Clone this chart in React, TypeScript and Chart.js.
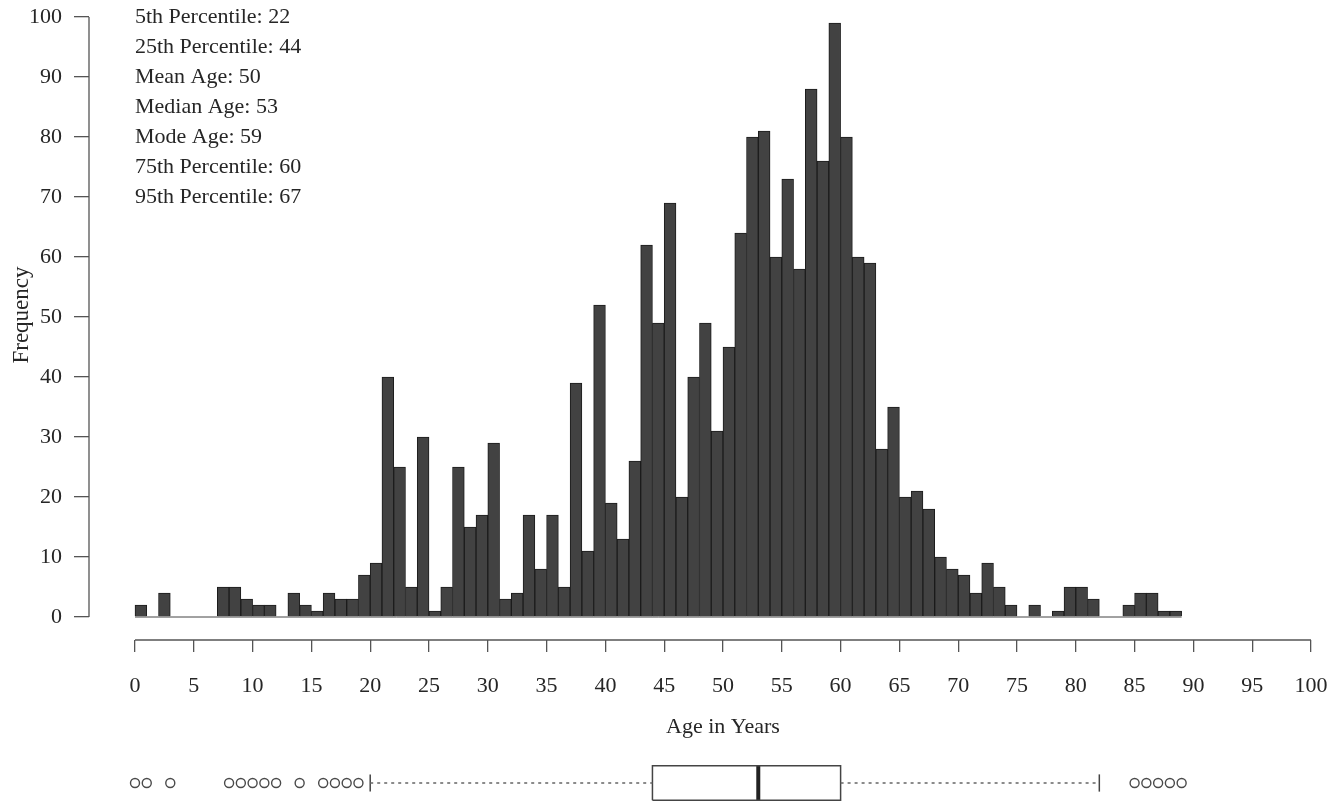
import React, { useEffect, useRef } from 'react';
import { Chart, registerables } from 'chart.js';

Chart.register(...registerables);

// ---------- data ----------
const BIN_START = 0;
const BIN_WIDTH = 1;
// frequency per 1-year bin, bins 0-1 ... 88-89
const frequencies = [
  2, 0, 4, 0, 0, 0, 0, 5, 5, 3,
  2, 2, 0, 4, 2, 1, 4, 3, 3, 7,
  9, 40, 25, 5, 30, 1, 5, 25, 15, 17,
  29, 3, 4, 17, 8, 17, 5, 39, 11, 52,
  19, 13, 26, 62, 49, 69, 20, 40, 49, 31,
  45, 64, 80, 81, 60, 73, 58, 88, 76, 99,
  80, 60, 59, 28, 35, 20, 21, 18, 10, 8,
  7, 4, 9, 5, 2, 0, 2, 0, 1, 5,
  5, 3, 0, 0, 2, 4, 4, 1, 1,
];
const xTickValues = [0, 5, 10, 15, 20, 25, 30, 35, 40, 45, 50, 55, 60, 65, 70, 75, 80, 85, 90, 95, 100];
const yTickValues = [0, 10, 20, 30, 40, 50, 60, 70, 80, 90, 100];
const xAxisTitle = 'Age in Years';
const yAxisTitle = 'Frequency';
const statsLines = [
  '5th Percentile: 22',
  '25th Percentile: 44',
  'Mean Age: 50',
  'Median Age: 53',
  'Mode Age: 59',
  '75th Percentile: 60',
  '95th Percentile: 67',
];
// box plot summary
const boxLowerWhisker = 20;
const boxQ1 = 44;
const boxMedian = 53;
const boxQ3 = 60;
const boxUpperWhisker = 82;
const outlierAges = [0, 1, 3, 8, 9, 10, 11, 12, 14, 16, 17, 18, 19, 85, 86, 87, 88, 89];

// ---------- styles ----------
const FONT = "'Liberation Serif', 'Times New Roman', serif";
const FONT_SIZE = 22;
const TEXT_COLOR = '#262626';
const AXIS_COLOR = '#555';
const X_MIN = -3.912;
const X_MAX = 100;
const Y_MIN = -3.833;
const Y_MAX = 100;
const BOX_HALF = 0.786;
const CAP_HALF = 0.39;

const histPoints = frequencies.map((f, i) => ({ x: BIN_START + (i + 0.5) * BIN_WIDTH, y: f }));
const binEnd = BIN_START + frequencies.length * BIN_WIDTH;

const histDecor = {
  id: 'histDecor',
  afterDraw(chart: any) {
    const { ctx, chartArea } = chart;
    const xs = chart.scales.x;
    const ys = chart.scales.y;
    ctx.save();
    ctx.strokeStyle = AXIS_COLOR;
    ctx.lineWidth = 1.3;
    ctx.beginPath();
    const xLeft = xs.getPixelForValue(xTickValues[0]);
    const xRight = xs.getPixelForValue(xTickValues[xTickValues.length - 1]);
    ctx.moveTo(xLeft, chartArea.bottom);
    ctx.lineTo(xRight, chartArea.bottom);
    ctx.moveTo(chartArea.left, ys.getPixelForValue(yTickValues[0]));
    ctx.lineTo(chartArea.left, ys.getPixelForValue(yTickValues[yTickValues.length - 1]));
    ctx.stroke();

    ctx.fillStyle = TEXT_COLOR;
    ctx.font = `${FONT_SIZE}px ${FONT}`;
    ctx.textAlign = 'left';
    ctx.textBaseline = 'middle';
    const x0 = xs.getPixelForValue(0);
    const y0 = ys.getPixelForValue(Y_MAX);
    statsLines.forEach((t, i) => ctx.fillText(t, x0, y0 + i * 30));

    // x-axis title, centred on the 0-100 axis line
    ctx.textAlign = 'center';
    ctx.fillText(xAxisTitle, (xLeft + xRight) / 2, chartArea.bottom + 87);

    // y-axis title
    ctx.font = `23px ${FONT}`;
    ctx.translate(22, (ys.getPixelForValue(0) + ys.getPixelForValue(Y_MAX)) / 2 - 2);
    ctx.rotate(-Math.PI / 2);
    ctx.fillText(yAxisTitle, 0, 0);
    ctx.restore();
  },
};

export default function App() {
  const histRef = useRef<HTMLCanvasElement>(null);
  const boxRef = useRef<HTMLCanvasElement>(null);

  useEffect(() => {
    const tickFont = { family: FONT, size: FONT_SIZE };
    const hist = new Chart(histRef.current as HTMLCanvasElement, {
      type: 'bar',
      data: {
        datasets: [
          {
            type: 'bar',
            data: histPoints,
            backgroundColor: '#424242',
            borderColor: '#1c1c1c',
            borderWidth: 1,
            borderSkipped: 'start',
            barPercentage: 1,
            categoryPercentage: 1,
            order: 0,
          } as any,
          {
            type: 'line',
            data: [{ x: BIN_START, y: 0 }, { x: binEnd, y: 0 }],
            borderColor: '#444',
            borderWidth: 1,
            pointRadius: 0,
            order: 1,
          } as any,
        ],
      },
      options: {
        animation: false,
        responsive: false,
        maintainAspectRatio: false,
        layout: { padding: { top: 17, right: 23, left: 0, bottom: 0 } },
        plugins: { legend: { display: false }, tooltip: { enabled: false } },
        scales: {
          x: {
            type: 'linear',
            min: X_MIN,
            max: X_MAX,
            offset: false,
            afterBuildTicks: (s: any) => { s.ticks = xTickValues.map((v) => ({ value: v })); },
            afterFit: (s: any) => { s.height = 110; s.paddingLeft = 0; s.paddingRight = 0; },
            grid: { offset: false, drawOnChartArea: false, drawTicks: true, tickLength: 12, color: AXIS_COLOR, lineWidth: 1.3 },
            border: { display: false },
            ticks: { padding: 21, color: TEXT_COLOR, font: tickFont, maxRotation: 0, autoSkip: false },
          },
          y: {
            type: 'linear',
            min: Y_MIN,
            max: Y_MAX,
            afterBuildTicks: (s: any) => { s.ticks = yTickValues.map((v) => ({ value: v })); },
            afterFit: (s: any) => { s.width = 89; s.paddingTop = 0; s.paddingBottom = 0; },
            grid: { drawOnChartArea: false, drawTicks: true, tickLength: 15, color: AXIS_COLOR, lineWidth: 1.3 },
            border: { display: false },
            ticks: { padding: 12, color: TEXT_COLOR, font: tickFont, autoSkip: false },
          },
        },
      } as any,
      plugins: [histDecor],
    });

    const lineDs = (pts: { x: number; y: number }[], extra: any = {}) => ({
      data: pts,
      showLine: true,
      borderColor: '#444',
      borderWidth: 1.5,
      pointRadius: 0,
      ...extra,
    });

    const box = new Chart(boxRef.current as HTMLCanvasElement, {
      type: 'scatter',
      data: {
        datasets: [
          lineDs([{ x: boxLowerWhisker, y: 0 }, { x: boxQ1, y: 0 }], { borderDash: [3, 4], borderColor: '#666' }),
          lineDs([{ x: boxQ3, y: 0 }, { x: boxUpperWhisker, y: 0 }], { borderDash: [3, 4], borderColor: '#666' }),
          lineDs([{ x: boxLowerWhisker, y: -CAP_HALF }, { x: boxLowerWhisker, y: CAP_HALF }]),
          lineDs([{ x: boxUpperWhisker, y: -CAP_HALF }, { x: boxUpperWhisker, y: CAP_HALF }]),
          lineDs([
            { x: boxQ1, y: -BOX_HALF },
            { x: boxQ3, y: -BOX_HALF },
            { x: boxQ3, y: BOX_HALF },
            { x: boxQ1, y: BOX_HALF },
            { x: boxQ1, y: -BOX_HALF },
          ]),
          lineDs([{ x: boxMedian, y: -BOX_HALF }, { x: boxMedian, y: BOX_HALF }], { borderWidth: 4, borderColor: '#222' }),
          {
            data: outlierAges.map((a) => ({ x: a, y: 0 })),
            showLine: false,
            pointRadius: 4.5,
            pointBorderWidth: 1.4,
            pointBackgroundColor: '#fff',
            pointBorderColor: '#4a4a4a',
          },
        ] as any,
      },
      options: {
        animation: false,
        responsive: false,
        maintainAspectRatio: false,
        layout: { padding: { top: 0, right: 23, left: 89, bottom: 0 } },
        plugins: { legend: { display: false }, tooltip: { enabled: false } },
        scales: {
          x: { type: 'linear', min: X_MIN, max: X_MAX, display: false },
          y: { type: 'linear', min: -1, max: 1, display: false },
        },
      } as any,
    });

    return () => {
      hist.destroy();
      box.destroy();
    };
  }, []);

  return (
    <div style={{ position: 'absolute', left: 0, top: 0, width: 1334, height: 811, background: '#fff', overflow: 'hidden' }}>
      <canvas ref={histRef} width={1334} height={750} style={{ position: 'absolute', left: 0, top: 0 }} />
      <canvas ref={boxRef} width={1334} height={56} style={{ position: 'absolute', left: 0, top: 755 }} />
    </div>
  );
}
